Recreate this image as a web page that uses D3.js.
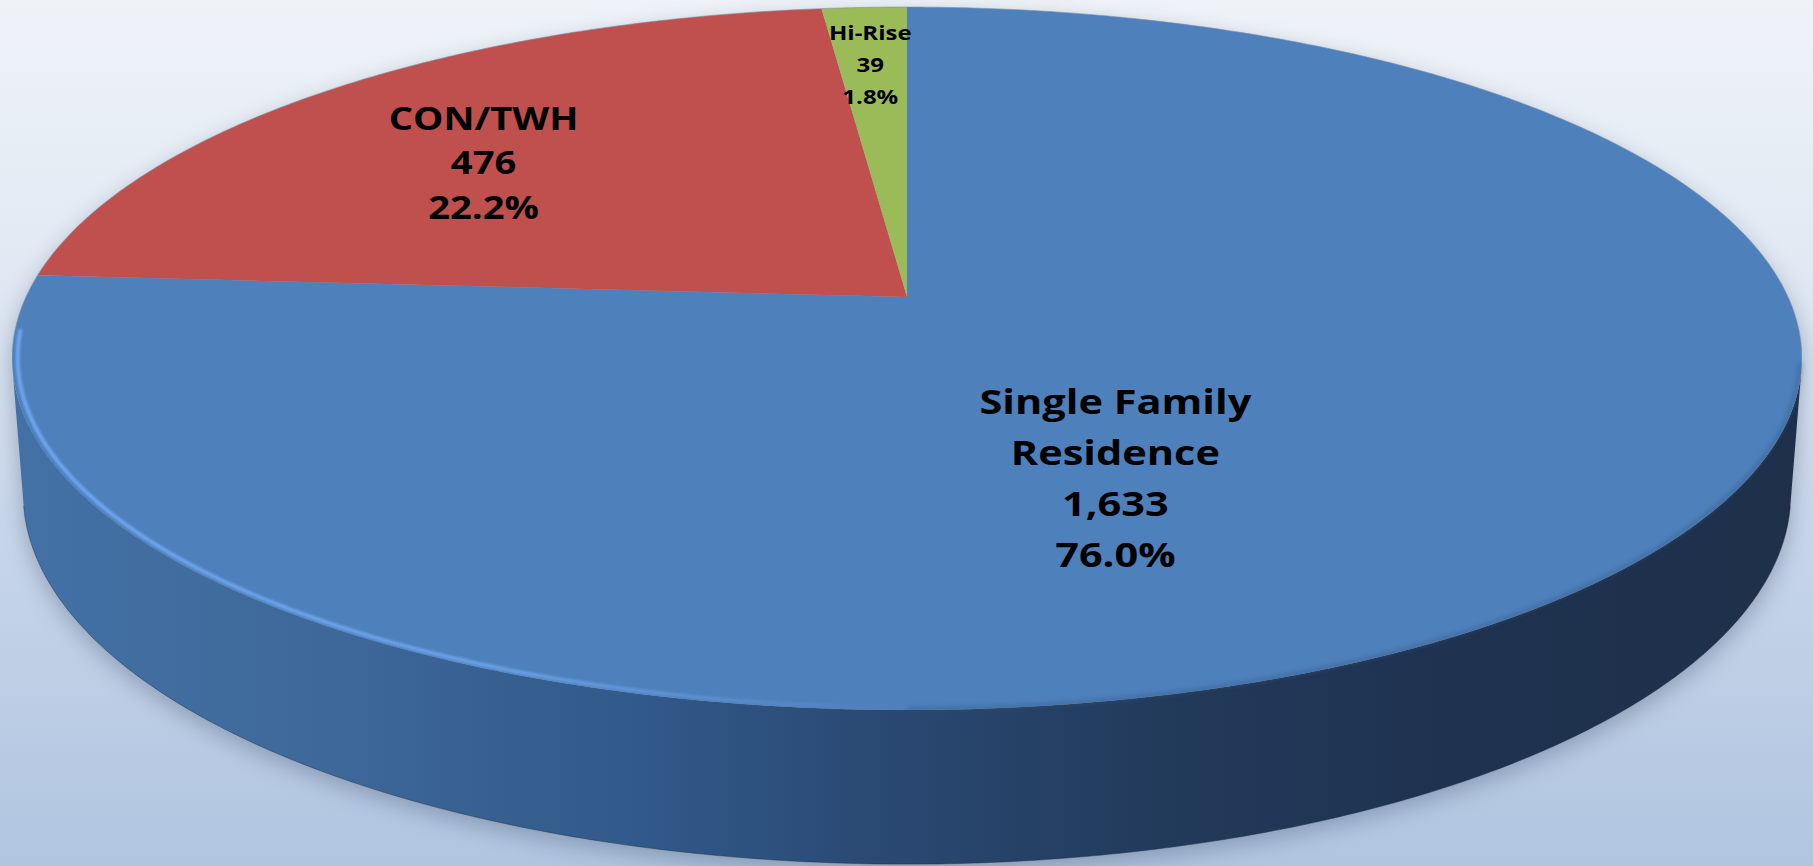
<!DOCTYPE html>
<html>
<head>
<meta charset="utf-8">
<script src="https://cdn.jsdelivr.net/npm/d3@7"></script>
<style>
  html, body { margin: 0; padding: 0; background: #e8eef6; }
  svg { display: block; }
</style>
</head>
<body>
<script>
// ---------------- data ----------------
const categories = ["Single Family Residence", "CON/TWH", "Hi-Rise"];
const labelNames = [["Single Family", "Residence"], ["CON/TWH"], ["Hi-Rise"]];
const values = [1633, 476, 39];
const colors = ["#4e80bc", "#c0504d", "#9bbb59"];

// label placement on the (untilted) disk: angle in degrees clockwise from 12 o'clock, radius fraction
const labelAngle = [156, 309.3, 356.5];
const labelRadius = [0.532, 0.667, 0.775];
const labelFont = [34.6, 31.8, 20];
const labelLine = [51, 44.5, 32];

// ---------------- setup ----------------
const W = 1813, H = 866;
const cam = { cx: 907, cy: 297, F: 4643, D: 5.27, sin: 0.3867, cos: 0.9222, h: 0.165 };

function proj(x, y, z) {
  const d = cam.D - y * cam.cos - z * cam.sin;
  return [cam.cx + cam.F * x / d, cam.cy + cam.F * (y * cam.sin - z * cam.cos) / d];
}
function rimPts(a0, a1, r, z) {
  const n = Math.max(2, Math.ceil(Math.abs(a1 - a0) / (Math.PI / 360)));
  return d3.range(n + 1).map(i => {
    const a = a0 + (a1 - a0) * i / n;
    return proj(r * Math.sin(a), -r * Math.cos(a), z);
  });
}
const line = d3.line();
const closed = pts => line(pts) + "Z";

const svg = d3.select("body").append("svg").attr("width", W).attr("height", H);
const defs = svg.append("defs");

// background gradient
const bg = defs.append("linearGradient").attr("id", "bg").attr("x1", 0).attr("y1", 0).attr("x2", 0).attr("y2", 1);
[[0, "#eff3f8"], [0.3, "#e2e9f3"], [0.6, "#c8d6ea"], [1, "#b1c5e0"]].forEach(([o, c]) =>
  bg.append("stop").attr("offset", o).attr("stop-color", c));
svg.append("rect").attr("width", W).attr("height", H).attr("fill", "url(#bg)");

// side gradient
const sg = defs.append("linearGradient").attr("id", "side").attr("gradientUnits", "userSpaceOnUse")
  .attr("x1", 12).attr("y1", 0).attr("x2", 1802).attr("y2", 0);
[[0, "#4371a6"], [0.18, "#3e6899"], [0.35, "#31598a"], [0.5, "#294770"], [0.65, "#223a5a"], [0.8, "#1f3250"], [1, "#1e3049"]]
  .forEach(([o, c]) => sg.append("stop").attr("offset", o).attr("stop-color", c));

// highlight gradient
const hg = defs.append("linearGradient").attr("id", "hl").attr("gradientUnits", "userSpaceOnUse")
  .attr("x1", 12).attr("y1", 0).attr("x2", 880).attr("y2", 0);
[[0, 1], [0.55, 0.85], [1, 0]].forEach(([o, op]) =>
  hg.append("stop").attr("offset", o).attr("stop-color", "#6ea6ee").attr("stop-opacity", op));

defs.append("filter").attr("id", "shadowBlur").attr("x", "-10%").attr("y", "-10%").attr("width", "120%").attr("height", "130%")
  .append("feGaussianBlur").attr("stdDeviation", 11);
defs.append("filter").attr("id", "softBlur").attr("x", "-5%").attr("y", "-5%").attr("width", "110%").attr("height", "110%")
  .append("feGaussianBlur").attr("stdDeviation", 1.2);
defs.append("filter").attr("id", "edgeBlur").attr("x", "-5%").attr("y", "-5%").attr("width", "110%").attr("height", "110%")
  .append("feGaussianBlur").attr("stdDeviation", 2.2);

// pie angles via d3.pie (clockwise from 12 o'clock)
const pie = d3.pie().sort(null).value(d => d)(values);
const total = d3.sum(values);

// side wall visible range
const t = 1 / (cam.D * cam.cos);
const aVis0 = Math.acos(-t), aVis1 = 2 * Math.PI - Math.acos(-t);
const sidePts = rimPts(aVis0, aVis1, 1, 0).concat(rimPts(aVis1, aVis0, 1, -cam.h));
const topPts = rimPts(0, 2 * Math.PI, 1, 0);

// shadow
const sh = svg.append("g").attr("filter", "url(#shadowBlur)").attr("opacity", 0.5).attr("transform", "translate(0,8)");
sh.append("path").attr("d", closed(sidePts)).attr("fill", "#5f6f8a");
sh.append("path").attr("d", closed(topPts)).attr("fill", "#5f6f8a");

// side wall
svg.append("path").attr("d", closed(sidePts)).attr("fill", "url(#side)");
svg.append("path").attr("d", line(rimPts(aVis0, aVis1, 1, -cam.h)))
  .attr("fill", "none").attr("stroke", "#1b2c44").attr("stroke-width", 1).attr("opacity", 0.45);

// top face slices
svg.append("g").selectAll("path").data(pie).join("path")
  .attr("d", d => closed([proj(0, 0, 0)].concat(rimPts(d.startAngle, d.endAngle, 1, 0))))
  .attr("fill", (d, i) => colors[i]);

// back rim thin edge
svg.append("path").attr("d", line(rimPts(-Math.PI * 0.55, Math.PI * 0.55, 1, 0)))
  .attr("fill", "none").attr("stroke", "#7f8ea5").attr("stroke-width", 1).attr("opacity", 0.6);

// right-front soft dark edge (bevel)
svg.append("path").attr("d", line(rimPts(Math.PI * 0.56, Math.PI * 1.0, 0.998, 0)))
  .attr("fill", "none").attr("stroke", "#33557f").attr("stroke-width", 3).attr("filter", "url(#edgeBlur)").attr("opacity", 0.55);

// left-front highlight bevel
svg.append("path").attr("d", line(rimPts(Math.PI * 1.0, Math.PI * 1.47, 0.994, 0)))
  .attr("fill", "none").attr("stroke", "url(#hl)").attr("stroke-width", 4).attr("filter", "url(#softBlur)");

// labels
const fmtN = d3.format(",");
const fmtP = d3.format(".1%");
const labels = svg.append("g").attr("font-family", "'Open Sans', 'DejaVu Sans', sans-serif").attr("font-weight", 700).attr("fill", "#000");
values.forEach((v, i) => {
  const a = labelAngle[i] * Math.PI / 180, r = labelRadius[i];
  const [x, y] = proj(r * Math.sin(a), -r * Math.cos(a), 0);
  const lines = labelNames[i].concat([fmtN(v), fmtP(v / total)]);
  const fs = labelFont[i], lh = labelLine[i], cap = fs * 0.714;
  const totalH = cap + (lines.length - 1) * lh;
  const first = y - totalH / 2 + cap;
  const g = labels.append("g").attr("transform", `translate(${x},0) scale(1.2,1)`);
  g.selectAll("text").data(lines).join("text")
    .attr("x", 0).attr("y", (d, j) => first + j * lh)
    .attr("text-anchor", "middle").attr("font-size", fs)
    .text(d => d);
});
</script>
</body>
</html>
